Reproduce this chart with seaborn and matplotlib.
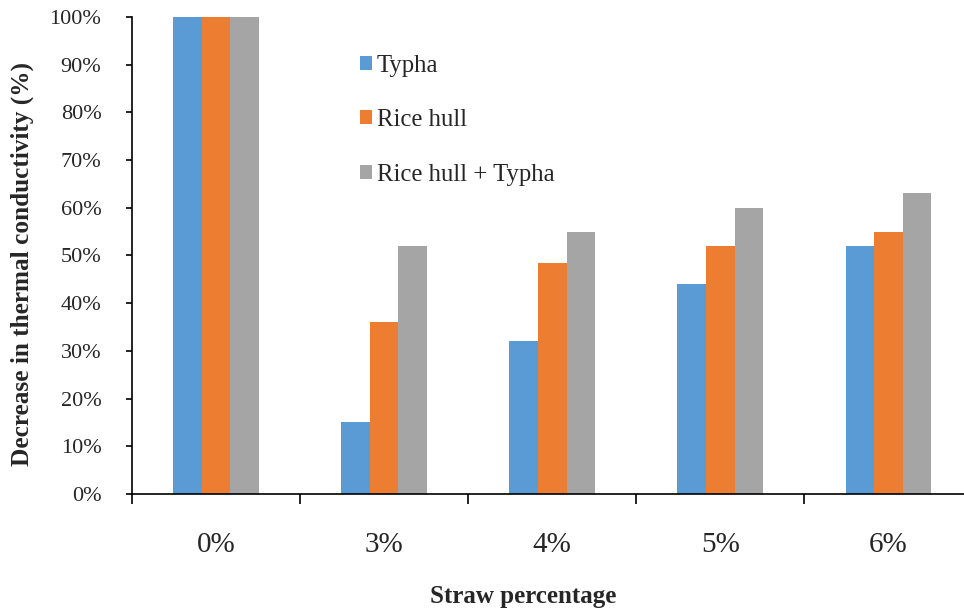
import matplotlib
matplotlib.use("Agg")
import matplotlib.pyplot as plt
import seaborn as sns
import pandas as pd
import numpy as np
from matplotlib.ticker import FixedLocator, PercentFormatter
from matplotlib.patches import Patch

# Straw content categories and the decrease in thermal conductivity (%)
categories = ["0%", "3%", "4%", "5%", "6%"]
series_names = ["Typha", "Rice hull", "Rice hull + Typha"]
typha = [100, 15, 32, 44, 52]
rice_hull = [100, 36, 48.5, 52, 55]
rice_hull_typha = [100, 52, 55, 60, 63]
colors = ["#5B9BD5", "#ED7D31", "#A5A5A5"]
y_ticks = list(range(0, 101, 10))

df = pd.DataFrame({
    "Straw": categories * 3,
    "Series": [s for s in series_names for _ in categories],
    "Value": typha + rice_hull + rice_hull_typha,
})

sns.set_theme(style="white")
plt.rcParams["font.family"] = ["Liberation Serif", "DejaVu Serif"]

fig = plt.figure(figsize=(9.64, 6.13), dpi=100)
ax = fig.add_axes([132 / 964, 1 - 494 / 613, (972.5 - 132) / 964, (494 - 17) / 613])

sns.barplot(data=df, x="Straw", y="Value", hue="Series", order=categories,
            hue_order=series_names, palette=colors, width=0.51, gap=0,
            saturation=1, linewidth=0, errorbar=None, legend=False, ax=ax)

ax.set_xlim(-0.5, len(categories) - 0.5)
ax.set_ylim(0, 100)
ax.set_yticks(y_ticks)
ax.yaxis.set_major_formatter(PercentFormatter(decimals=0))
ax.tick_params(axis="y", which="major", direction="out", length=4, width=1.2,
               color="black", labelsize=16, pad=18, left=True)

# category labels centred, tick marks on the category boundaries
ax.set_xticks(range(len(categories)))
ax.set_xticklabels(categories)
ax.xaxis.set_minor_locator(FixedLocator(np.arange(-0.5, len(categories), 1.0)))
ax.tick_params(axis="x", which="major", length=0, labelsize=21, pad=27)
ax.tick_params(axis="x", which="minor", direction="out", length=7, width=1.2,
               color="black", bottom=True)

for side in ["top", "right"]:
    ax.spines[side].set_visible(False)
for side in ["left", "bottom"]:
    ax.spines[side].set_color("black")
    ax.spines[side].set_linewidth(1.2)

ax.set_xlabel("Straw percentage", fontsize=18, fontweight="bold", labelpad=20)
ax.xaxis.label.set_x(0.466)
ax.set_ylabel("Decrease in thermal conductivity (%)", fontsize=18.2,
              fontweight="bold", labelpad=11)
ax.yaxis.label.set_y(0.482)

handles = [Patch(facecolor=c, edgecolor="none", label=n)
           for c, n in zip(colors, series_names)]
ax.legend(handles=handles, loc="upper left", bbox_to_anchor=(0.259, 0.942),
          frameon=False, fontsize=17.8, handlelength=0.5, handleheight=0.5,
          handletextpad=0.2, labelspacing=1.32, borderaxespad=0)

fig.savefig("out.png", dpi=100)
